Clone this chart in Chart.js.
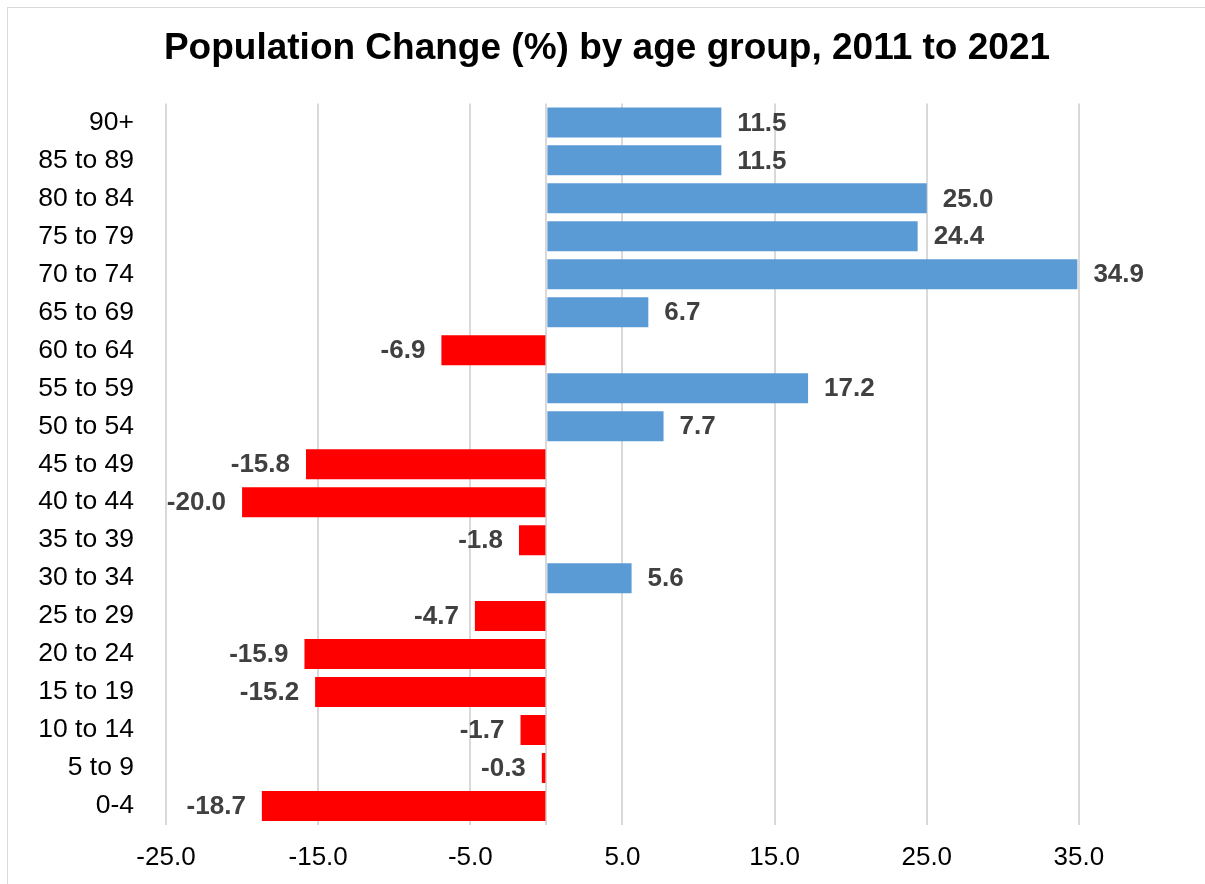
<!DOCTYPE html>
<html>
<head>
<meta charset="utf-8">
<script src="https://cdn.jsdelivr.net/npm/chart.js@4"></script>
<style>
html, body { margin: 0; padding: 0; background: #fff; overflow: hidden; }
#frame { position: absolute; left: 7px; top: 7px; width: 1230px; height: 900px; border: 1px solid #d9d9d9; }
#canvasDiv { position: absolute; left: 0; top: 0; width: 1205px; height: 884px; }
</style>
</head>
<body>
<div id="frame"></div>
<div id="canvasDiv"><canvas id="chartCanvas" width="1205" height="884"></canvas></div>
<script>
const ageGroups = [
    "90+", "85 to 89", "80 to 84", "75 to 79", "70 to 74", "65 to 69", "60 to 64",
    "55 to 59", "50 to 54", "45 to 49", "40 to 44", "35 to 39", "30 to 34",
    "25 to 29", "20 to 24", "15 to 19", "10 to 14", "5 to 9", "0-4"
];
const changePct = [
    11.5, 11.5, 25.0, 24.4, 34.9, 6.7, -6.9,
    17.2, 7.7, -15.8, -20.0, -1.8, 5.6,
    -4.7, -15.9, -15.2, -1.7, -0.3, -18.7
];
const xTicks = [-25, -15, -5, 0, 5, 15, 25, 35];

const fontFamily = "'Liberation Sans', Arial, sans-serif";

// value labels just past the end of each bar
const barLabels = {
    id: 'barLabels',
    afterDatasetsDraw(chart) {
        const ctx = chart.ctx;
        const meta = chart.getDatasetMeta(0);
        ctx.save();
        ctx.font = "bold 26px " + fontFamily;
        ctx.fillStyle = '#404040';
        ctx.textBaseline = 'middle';
        meta.data.forEach((bar, i) => {
            const v = changePct[i];
            if (v >= 0) {
                ctx.textAlign = 'left';
                ctx.fillText(v.toFixed(1), bar.x + 16, bar.y + 1);
            } else {
                ctx.textAlign = 'right';
                ctx.fillText(v.toFixed(1), bar.x - 16, bar.y + 1);
            }
        });
        ctx.restore();
    }
};

const data = {
    labels: ageGroups,
    datasets: [
        {
            label: "Population Change (%)",
            data: changePct,
            backgroundColor: ctx => (changePct[ctx.dataIndex] < 0 ? '#ff0000' : '#5b9bd5'),
            borderWidth: 0,
            barPercentage: 0.79,
            categoryPercentage: 1.0
        }
    ]
};

const config = {
    type: 'bar',
    data: data,
    plugins: [barLabels],
    options: {
        indexAxis: 'y',
        responsive: false,
        animation: false,
        devicePixelRatio: 1,
        layout: { padding: { left: 9, right: 0, top: 0, bottom: 0 } },
        plugins: {
            legend: { display: false },
            tooltip: { enabled: false },
            title: {
                display: true,
                text: "Population Change (%) by age group, 2011 to 2021",
                color: '#000',
                font: { family: fontFamily, size: 37, weight: 'bold' },
                padding: { top: 27, bottom: 32 }
            }
        },
        scales: {
            x: {
                type: 'linear',
                min: -25,
                max: 40,
                afterBuildTicks: scale => {
                    scale.ticks = xTicks.map(v => ({ value: v }));
                },
                afterFit: scale => { scale.height = 59; },
                grid: { color: '#d9d9d9', lineWidth: 2, drawTicks: false },
                border: { display: false },
                ticks: {
                    padding: 17,
                    color: '#000',
                    font: { family: fontFamily, size: 26 },
                    callback: v => (v === 0 ? '' : Number(v).toFixed(1))
                }
            },
            y: {
                afterFit: scale => { scale.width = 157; },
                grid: { display: false, drawTicks: false },
                border: { display: false },
                ticks: {
                    padding: 32,
                    color: '#000',
                    font: { family: fontFamily, size: 26.5 }
                }
            },
            // empty right-hand gutter so the plot stops at 40
            yRight: {
                type: 'category',
                position: 'right',
                afterFit: scale => { scale.width = 50; },
                grid: { display: false, drawTicks: false },
                border: { display: false },
                ticks: { display: false }
            }
        }
    }
};

let myChart = new Chart(document.getElementById('chartCanvas'), config);
</script>
</body>
</html>
